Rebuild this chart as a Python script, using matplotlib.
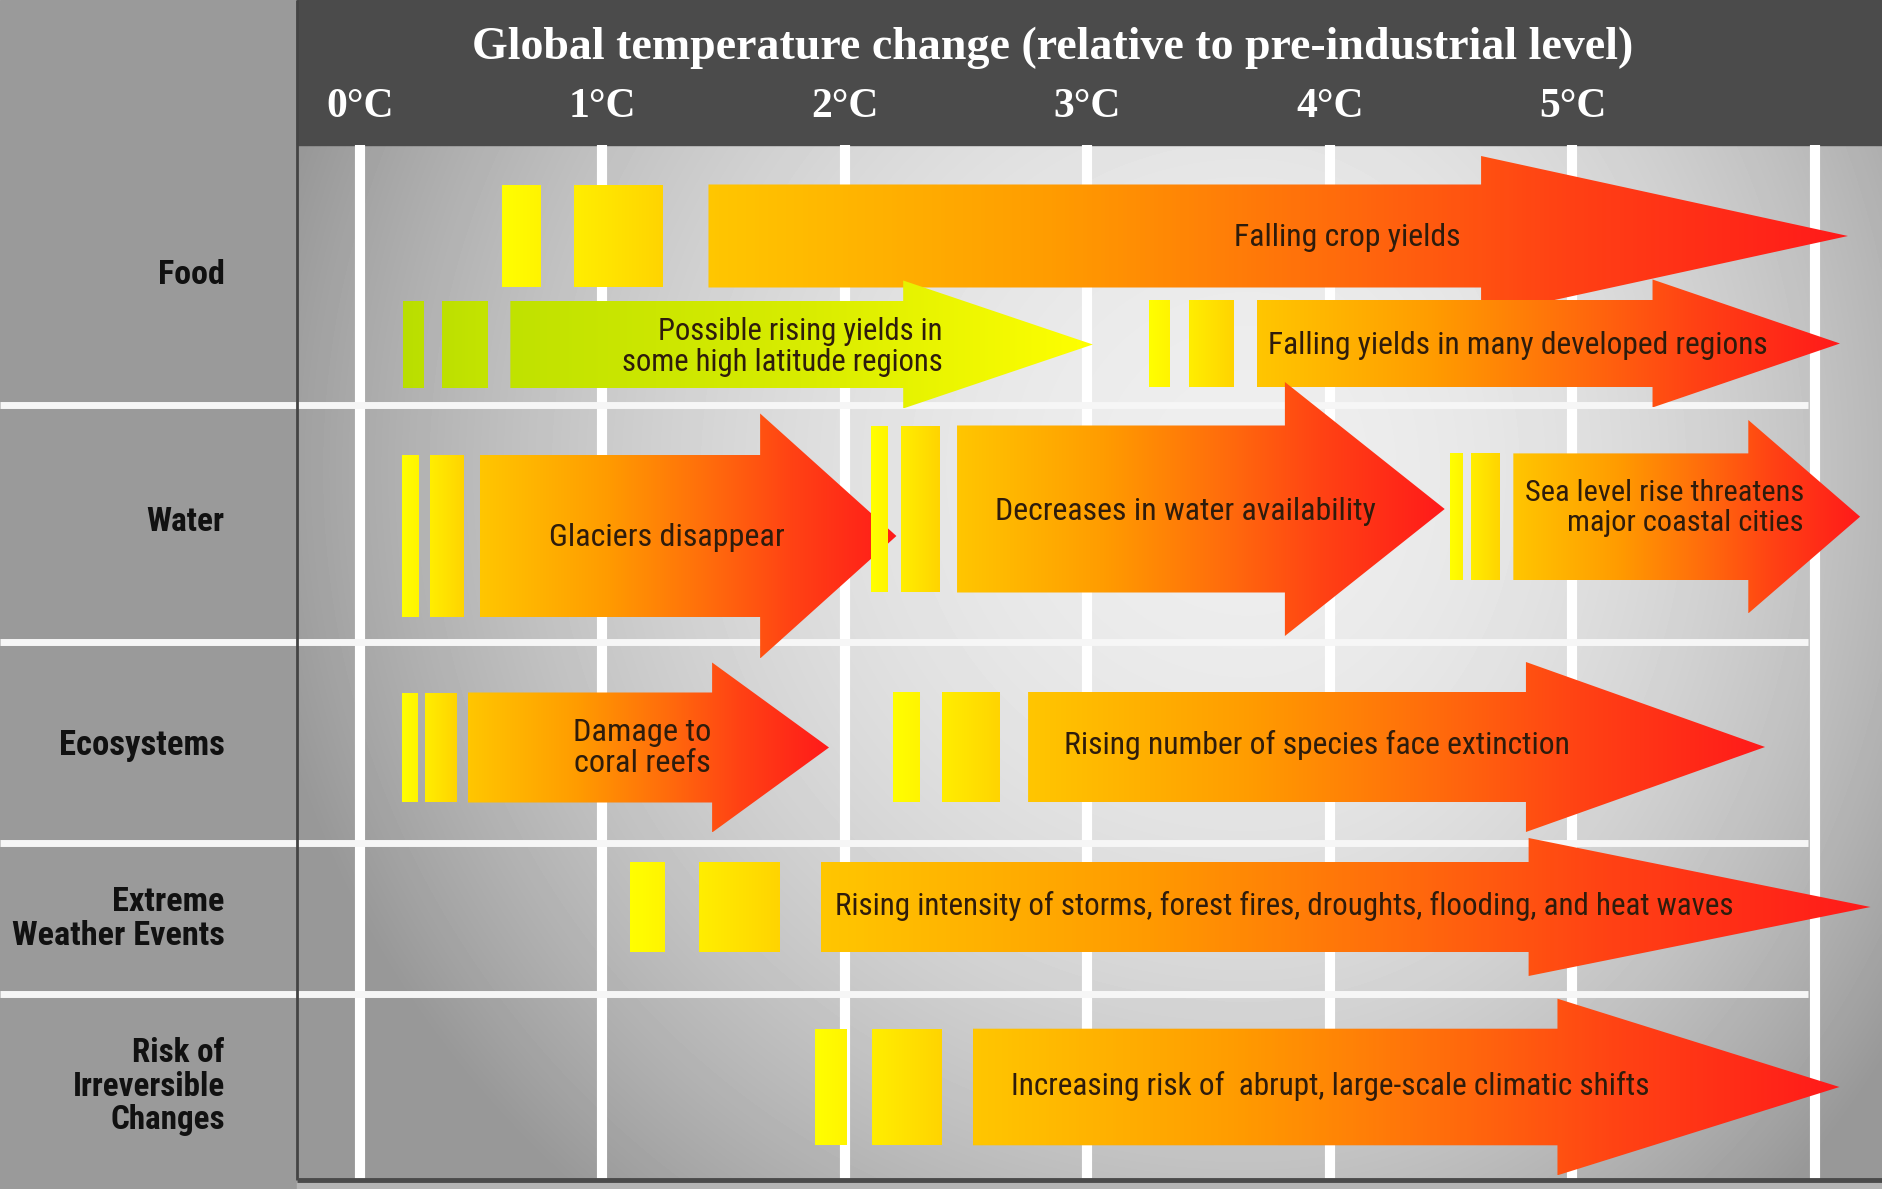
import os

import numpy as np
import matplotlib
matplotlib.use("Agg")
import matplotlib.pyplot as plt
from matplotlib import font_manager as fm
from matplotlib.colors import LinearSegmentedColormap
from matplotlib.patches import Polygon, Rectangle

# temperature axis (deg C above pre-industrial)
temps = [0, 1, 2, 3, 4, 5]
temp_labels = ["0°C", "1°C", "2°C", "3°C", "4°C", "5°C"]
grid_temps = [0, 1, 2, 3, 4, 5, 6]
title = "Global temperature change (relative to pre-industrial level)"

sectors = ["Food", "Water", "Ecosystems", "Extreme\nWeather Events",
           "Risk of\nIrreversible\nChanges"]

# impacts: text, shaft start, head start, tip (deg C)
impact_text = [
    "Falling crop yields",
    "Possible rising yields in\nsome high latitude regions",
    "Falling yields in many developed regions",
    "Glaciers disappear",
    "Decreases in water availability",
    "Sea level rise threatens\nmajor coastal cities",
    "Damage to\ncoral reefs",
    "Rising number of species face extinction",
    "Rising intensity of storms, forest fires, droughts, flooding, and heat waves",
    "Increasing risk of  abrupt, large-scale climatic shifts",
]
impact_start = [1.437, 0.620, 3.699, 0.493, 2.462, 4.756, 0.444, 2.755, 1.900, 2.527]
impact_head = [4.623, 2.240, 5.330, 1.650, 3.814, 5.725, 1.452, 4.808, 4.819, 4.938]
impact_tip = [6.136, 3.022, 6.103, 2.212, 4.473, 6.186, 1.934, 5.794, 6.229, 6.101]
impact_kind = ["heat", "green", "heat", "heat", "heat", "heat", "heat", "heat", "heat", "heat"]

# the two onset blocks in front of each arrow (deg C)
onset_bars = [
    [(0.586, 0.744), (0.883, 1.249)],
    [(0.179, 0.264), (0.338, 0.526)],
    [(3.255, 3.339), (3.418, 3.601)],
    [(0.172, 0.239), (0.288, 0.427)],
    [(2.106, 2.175), (2.229, 2.388)],
    [(4.495, 4.547), (4.581, 4.697)],
    [(0.172, 0.234), (0.266, 0.395)],
    [(2.200, 2.309), (2.398, 2.635)],
    [(1.115, 1.259), (1.398, 1.730)],
    [(1.877, 2.008), (2.113, 2.398)],
]

# ---- layout (pixels of the 1883x1189 picture) ----
W, H = 1883, 1189
PX_PER_C = 242.5
ZERO_PX = 360
X_LEFT = -ZERO_PX / PX_PER_C
X_RIGHT = (W - ZERO_PX) / PX_PER_C
PANEL_X = (297 - ZERO_PX) / PX_PER_C
HEADER_Y = 145
BOTTOM_Y = 1180
row_edges = [405, 642, 843, 994]
sector_y = [275, 522, 745, 919, 1087]
sector_w = [67, 78, 166, 213, 153]
arrow_y = [236, 344.5, 343.5, 536, 509, 516.7, 747.5, 747, 907, 1087]
shaft_half = [51.5, 43.5, 43.5, 81, 83.5, 63.3, 55, 55, 45, 58.3]
head_half = [80, 64, 64, 122.5, 127, 96.7, 85, 85, 69, 88.3]
text_x = [4.071, 2.403, 4.775, 1.264, 3.404, 5.954, 1.447, 3.945, 3.812, 4.0]
text_y = [237, 347, 346, 537, 512, 508, 748, 745, 906, 1086]
text_w = [227, 321, 500, 235, 381, 279, 138, 508, 899, 638]
text_ha = ["center", "right", "center", "center", "center", "right", "right",
           "center", "center", "center"]


def find_font(names):
    files = {os.path.basename(f.fname).lower(): f.fname for f in fm.fontManager.ttflist}
    for name in names:
        if name in files:
            return fm.FontProperties(fname=files[name])
    return None


narrow = find_font(["liberationsansnarrow-regular.ttf", "arialnarrow.ttf",
                    "robotocondensed-regular.ttf", "notosans-condensed.ttf",
                    "dejavusanscondensed.ttf"]) or fm.FontProperties(family="DejaVu Sans")
narrow_bold = find_font(["liberationsansnarrow-bold.ttf", "arialnarrowbold.ttf",
                         "robotocondensed-bold.ttf", "notosans-condensedbold.ttf",
                         "dejavusanscondensed-bold.ttf"]) or fm.FontProperties(
                             family="DejaVu Sans", weight="bold")
SERIF = ["Liberation Serif", "DejaVu Serif"]

heat = LinearSegmentedColormap.from_list(
    "heat", [(0, "#ffc600"), (0.3, "#ff9c00"), (0.55, "#ff6c0c"),
             (0.75, "#ff4214"), (1, "#ff1a1a")])
green = LinearSegmentedColormap.from_list("green", ["#c0e200", "#d8ec00", "#ffff00"])
bar_first = {"heat": LinearSegmentedColormap.from_list("b1", ["#ffff00", "#fff400"]),
             "green": LinearSegmentedColormap.from_list("g1", ["#b9de00", "#bde000"])}
bar_second = {"heat": LinearSegmentedColormap.from_list("b2", ["#ffee00", "#ffd400"]),
              "green": LinearSegmentedColormap.from_list("g2", ["#bde000", "#c4e400"])}
ramp = np.linspace(0, 1, 256)[None, :]


def gradient_patch(ax, patch, x0, x1, y0, y1, cmap, z):
    patch.set_facecolor("none")
    patch.set_edgecolor("none")
    ax.add_patch(patch)
    img = ax.imshow(ramp, extent=(x0, x1, y1, y0), cmap=cmap, aspect="auto",
                    interpolation="bilinear", zorder=z)
    img.set_clip_path(patch)


fig = plt.figure(figsize=(W / 100, H / 100), dpi=100)
ax = fig.add_axes([0, 0, 1, 1])
ax.set_axis_off()

# background shading of the chart area
xs = np.linspace(PANEL_X, X_RIGHT, 400)
ys = np.linspace(HEADER_Y, BOTTOM_Y, 300)
gx, gy = np.meshgrid(xs, ys)
px = ZERO_PX + gx * PX_PER_C
sx = np.where(px < 1250, 980, 780)
d2 = ((px - 1250) / sx) ** 2 + ((gy - 470) / 950) ** 2
shade = np.clip(238 - 82 * d2, 152, 240) / 255
ax.imshow(shade, extent=(PANEL_X, X_RIGHT, BOTTOM_Y, HEADER_Y), cmap="gray",
          vmin=0, vmax=1, aspect="auto", interpolation="bilinear", zorder=0)

ax.add_patch(Rectangle((X_LEFT, 0), PANEL_X - X_LEFT, H, color="#9a9a9a", zorder=0))
ax.add_patch(Rectangle((PANEL_X, 0), X_RIGHT - PANEL_X, HEADER_Y, color="#4b4b4b", zorder=0))
ax.add_patch(Rectangle((PANEL_X, BOTTOM_Y), X_RIGHT - PANEL_X, H - BOTTOM_Y,
                       color="#b4b4b4", zorder=0))

ax.vlines(grid_temps, HEADER_Y, BOTTOM_Y, colors="white", lw=7.3, zorder=1)
ax.hlines(row_edges, X_LEFT, 5.97, colors="#f6f6f6", lw=5, zorder=1)
ax.vlines(PANEL_X, 0, BOTTOM_Y, colors="#444444", lw=2, zorder=2)
ax.hlines(BOTTOM_Y, PANEL_X, X_RIGHT, colors="#4a4a4a", lw=3.5, zorder=2)

# header text
ax.text(2.858, 48, title, color="white", fontsize=33, fontweight="bold",
        family=SERIF, ha="center", va="center", zorder=3)
for t, lab in zip(temps, temp_labels):
    ax.text(t, 107, lab, color="white", fontsize=30, fontweight="bold",
            family=SERIF, ha="center", va="center", zorder=3)

fitted = []
# sector labels
for lab, y, w in zip(sectors, sector_y, sector_w):
    t = ax.text(-0.558, y, lab, color="#111111", fontproperties=narrow_bold,
                ha="right", va="center", multialignment="right",
                linespacing=1.06, zorder=3)
    t.set_fontsize(25)
    fitted.append((t, w))

# impact arrows
for i in range(len(impact_text)):
    x0, xh, xt = impact_start[i], impact_head[i], impact_tip[i]
    yc, hs, hh = arrow_y[i], shaft_half[i], head_half[i]
    kind = impact_kind[i]
    (a0, a1), (b0, b1) = onset_bars[i]
    gradient_patch(ax, Rectangle((a0, yc - hs), a1 - a0, 2 * hs), a0, a1,
                   yc - hs, yc + hs, bar_first[kind], 4)
    gradient_patch(ax, Rectangle((b0, yc - hs), b1 - b0, 2 * hs), b0, b1,
                   yc - hs, yc + hs, bar_second[kind], 4)
    pts = [(x0, yc - hs), (xh, yc - hs), (xh, yc - hh), (xt, yc),
           (xh, yc + hh), (xh, yc + hs), (x0, yc + hs)]
    gradient_patch(ax, Polygon(pts, closed=True), x0, xt, yc - hh, yc + hh,
                   green if kind == "green" else heat, 4)
    t = ax.text(text_x[i], text_y[i], impact_text[i], color="#2e1c0c",
                fontproperties=narrow, ha=text_ha[i], va="center",
                multialignment=text_ha[i], linespacing=1.06, zorder=6)
    t.set_fontsize(25)
    fitted.append((t, text_w[i]))

ax.set_xlim(X_LEFT, X_RIGHT)
ax.set_ylim(H, 0)

# scale each label so its width matches the reference
renderer = fig.canvas.get_renderer()
for t, w in fitted:
    cur = t.get_window_extent(renderer).width
    t.set_fontsize(min(30, t.get_fontsize() * w / cur))

fig.savefig("out.png", dpi=100)
